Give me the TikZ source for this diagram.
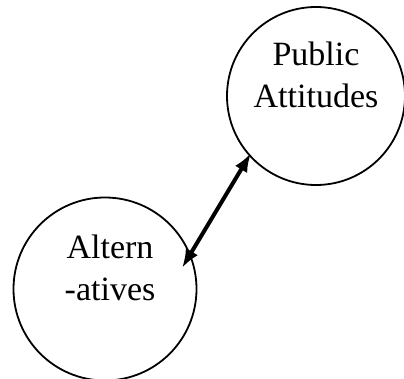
\documentclass[tikz,border=0pt]{standalone}
\usepackage{fontspec}
\setmainfont{Liberation Serif}
\usetikzlibrary{arrows.meta}
\begin{document}
\begin{tikzpicture}[x=1pt,y=-1pt,
  circ/.style={draw=black,line width=1.8pt,circle,minimum size=#1,inner sep=0pt},
  lbl/.style={font=\fontsize{34}{42}\selectfont,align=center,inner sep=0pt},
  dbl/.style={{Latex[length=19pt,width=14pt]}-{Latex[length=19pt,width=14pt]},line width=4pt}]
\useasboundingbox (0,0) rectangle (404,379);
\node[circ=178pt] (pub) at (316,96) {};
\node[circ=183pt] (alt) at (105,289) {};
\node[lbl,anchor=base] (pubt) at (316,108) {Public\\Attitudes};
\node[lbl,anchor=base] (altt) at (110,300) {Altern\\-atives};
\coordinate (a1) at (182,268);
\coordinate (a2) at (251,153);
\draw[dbl] (a1) -- (a2);
\end{tikzpicture}
\end{document}
